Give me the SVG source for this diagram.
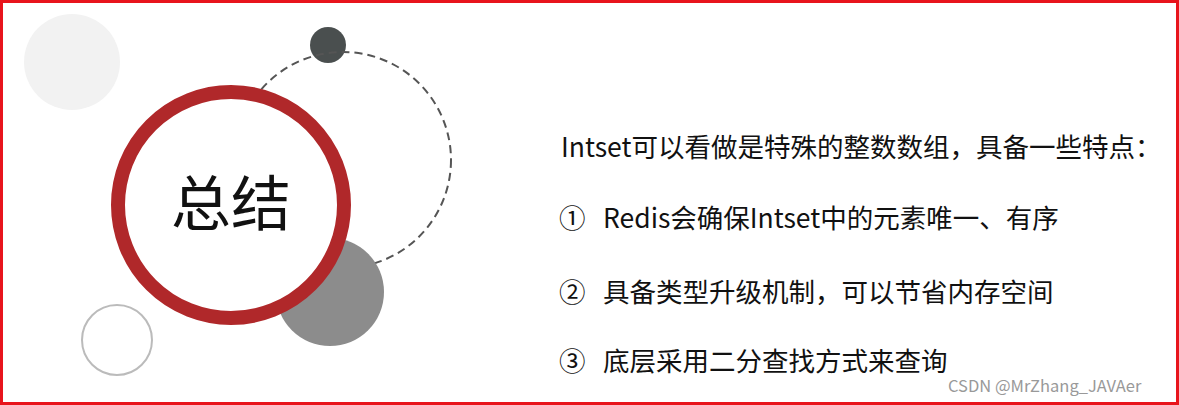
<svg xmlns="http://www.w3.org/2000/svg" width="1179" height="405" viewBox="0 0 1179 405">
<style>
.n{font-family:"Noto Sans CJK SC","Noto Sans",sans-serif;font-size:26.5px;fill:#111}
</style>
<rect x="0" y="0" width="1179" height="405" fill="#fff"/>
<rect x="1.5" y="1.5" width="1176" height="402" fill="none" stroke="#e8141c" stroke-width="3"/>
<circle cx="72" cy="62" r="48" fill="#f2f2f2"/>
<circle cx="328" cy="45" r="18" fill="#4a4f4f"/>
<circle cx="343" cy="160" r="108" fill="none" stroke="#555" stroke-width="2" stroke-dasharray="8,5"/>
<circle cx="330" cy="292" r="54" fill="#8c8c8c"/>
<circle cx="117" cy="340" r="35" fill="none" stroke="#bbb" stroke-width="2"/>
<circle cx="231" cy="205" r="113" fill="#fff" stroke="#b0282a" stroke-width="14"/>
<text x="231" y="226" text-anchor="middle" style="font-family:'Noto Sans CJK SC',sans-serif;font-size:60px;fill:#111">总结</text>
<text class="n" x="561" y="157">Intset可以看做是特殊的整数数组，具备一些特点：</text>
<text class="n" y="228"><tspan x="559">①</tspan><tspan x="603">Redis会确保Intset中的元素唯一、有序</tspan></text>
<text class="n" y="302"><tspan x="559">②</tspan><tspan x="603">具备类型升级机制，可以节省内存空间</tspan></text>
<text class="n" y="371"><tspan x="559">③</tspan><tspan x="603">底层采用二分查找方式来查询</tspan></text>
<text x="948" y="392" style="font-family:'Noto Sans CJK SC',sans-serif;font-size:16.5px;fill:#999">CSDN @MrZhang_JAVAer</text>
</svg>
